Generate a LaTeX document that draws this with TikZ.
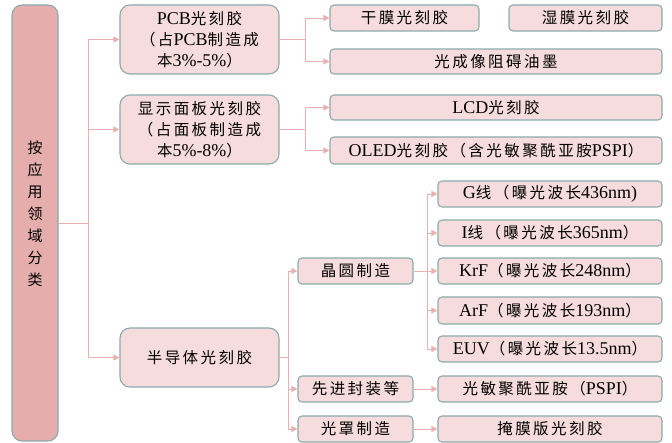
\documentclass[tikz,border=0pt]{standalone}
\usepackage{fontspec}
\setmainfont{Liberation Serif}
\newfontfamily\cjk[LetterSpace=16]{Noto Sans CJK SC}
\newfontfamily\cjkn{Noto Sans CJK SC}
\newcommand{\zh}[1]{{\fontsize{15.5}{21}\cjk #1}}
\usetikzlibrary{arrows.meta}
\definecolor{pinkd}{HTML}{E6ADAD}
\definecolor{pinkl}{HTML}{F6DCDC}
\definecolor{bordc}{HTML}{8CAAAE}
\definecolor{connc}{HTML}{EBB0B0}
\tikzset{
  box/.style={draw=bordc, fill=pinkl, line width=1.1pt, rounded corners=4pt, inner sep=0pt, align=center, font=\fontsize{18}{21}\selectfont},
  bigbox/.style={box, rounded corners=10pt},
  conn/.style={draw=connc, line width=0.9pt},
  arr/.style={conn, -{Triangle[length=6pt,width=6pt]}}
}
\begin{document}
\begin{tikzpicture}[x=1pt,y=-1pt]
\useasboundingbox (0,0) rectangle (672,443);
% left
\node[bigbox, fill=pinkd, minimum width=46pt, minimum height=436pt] (L) at (35,223) {};
\node[inner sep=0pt, align=center, font=\fontsize{15}{22}\selectfont\cjkn] (Ltxt) at (35,213.5) {按\\应\\用\\领\\域\\分\\类};
% level 1
\node[bigbox, minimum width=159pt, minimum height=69pt] (pcb) at (199.5,39.5) {PCB\zh{光刻胶}\\\zh{（占}PCB\zh{制造成}\\\zh{本}3\%-5\%\zh{）}};
\node[bigbox, minimum width=159pt, minimum height=69pt] (disp) at (199.5,129.5) {\zh{显示面板光刻胶}\\\zh{（占面板制造成}\\\zh{本}5\%-8\%\zh{）}};
\node[bigbox, minimum width=159pt, minimum height=59pt] (semi) at (199.5,357.5) {\zh{半导体光刻胶}};
% pcb children
\node[box, minimum width=149pt, minimum height=26pt] (dry) at (404.5,18) {\zh{干膜光刻胶}};
\node[box, minimum width=153pt, minimum height=26pt] (wet) at (585.5,18) {\zh{湿膜光刻胶}};
\node[box, minimum width=332pt, minimum height=25pt] (ink) at (496,61.5) {\zh{光成像阻碍油墨}};
% display children
\node[box, minimum width=332pt, minimum height=25pt] (lcd) at (496,107.5) {LCD\zh{光刻胶}};
\node[box, minimum width=332pt, minimum height=27pt] (oled) at (496,150.5) {OLED\zh{光刻胶（含光敏聚酰亚胺}PSPI\zh{）}};
% semi children
\node[box, minimum width=115pt, minimum height=26pt] (wafer) at (355.5,271) {\zh{晶圆制造}};
\node[box, minimum width=115pt, minimum height=26pt] (pkg) at (355.5,389) {\zh{先进封装等}};
\node[box, minimum width=115pt, minimum height=26pt] (mask) at (355.5,429) {\zh{光罩制造}};
% wafer children
\node[box, minimum width=224pt, minimum height=26pt] (g) at (550,194) {G\zh{线（曝光波长}436nm)};
\node[box, minimum width=224pt, minimum height=26pt] (i) at (550,233) {I\zh{线（曝光波长}365nm\zh{）}};
\node[box, minimum width=224pt, minimum height=26pt] (krf) at (550,271) {KrF\zh{（曝光波长}248nm\zh{）}};
\node[box, minimum width=224pt, minimum height=27pt] (arf) at (550,310.5) {ArF\zh{（曝光波长}193nm\zh{）}};
\node[box, minimum width=224pt, minimum height=26pt] (euv) at (550,349) {EUV\zh{（曝光波长}13.5nm\zh{）}};
\node[box, minimum width=224pt, minimum height=26pt] (pspi) at (550,389) {\zh{光敏聚酰亚胺（}PSPI\zh{）}};
\node[box, minimum width=224pt, minimum height=26pt] (mm) at (550,429) {\zh{掩膜版光刻胶}};
% connectors
\coordinate (t0) at (88,223);
\draw[conn] (L.east) -- (t0);
\draw[conn] (t0 |- pcb.west) -- (t0 |- semi.west);
\draw[arr] (t0 |- pcb.west) -- (pcb.west);
\draw[arr] (t0 |- disp.west) -- (disp.west);
\draw[arr] (t0 |- semi.west) -- (semi.west);
\coordinate (t1) at (305,39.5);
\draw[conn] (pcb.east) -- (t1);
\draw[conn] (t1 |- dry.west) -- (t1 |- ink.west);
\draw[arr] (t1 |- dry.west) -- (dry.west);
\draw[arr] (t1 |- ink.west) -- (ink.west);
\coordinate (t2) at (305,129.5);
\draw[conn] (disp.east) -- (t2);
\draw[conn] (t2 |- lcd.west) -- (t2 |- oled.west);
\draw[arr] (t2 |- lcd.west) -- (lcd.west);
\draw[arr] (t2 |- oled.west) -- (oled.west);
\coordinate (t3) at (288,357.5);
\draw[conn] (semi.east) -- (t3);
\draw[conn] (t3 |- wafer.west) -- (t3 |- mask.west);
\draw[arr] (t3 |- wafer.west) -- (wafer.west);
\draw[arr] (t3 |- pkg.west) -- (pkg.west);
\draw[arr] (t3 |- mask.west) -- (mask.west);
\coordinate (t4) at (427,271);
\draw[conn] (wafer.east) -- (t4);
\draw[conn] (t4 |- g.west) -- (t4 |- euv.west);
\draw[arr] (t4 |- g.west) -- (g.west);
\draw[arr] (t4 |- i.west) -- (i.west);
\draw[arr] (t4 |- krf.west) -- (krf.west);
\draw[arr] (t4 |- arf.west) -- (arf.west);
\draw[arr] (t4 |- euv.west) -- (euv.west);
\draw[arr] (pkg.east) -- (pspi.west);
\draw[arr] (mask.east) -- (mm.west);
\end{tikzpicture}
\end{document}
